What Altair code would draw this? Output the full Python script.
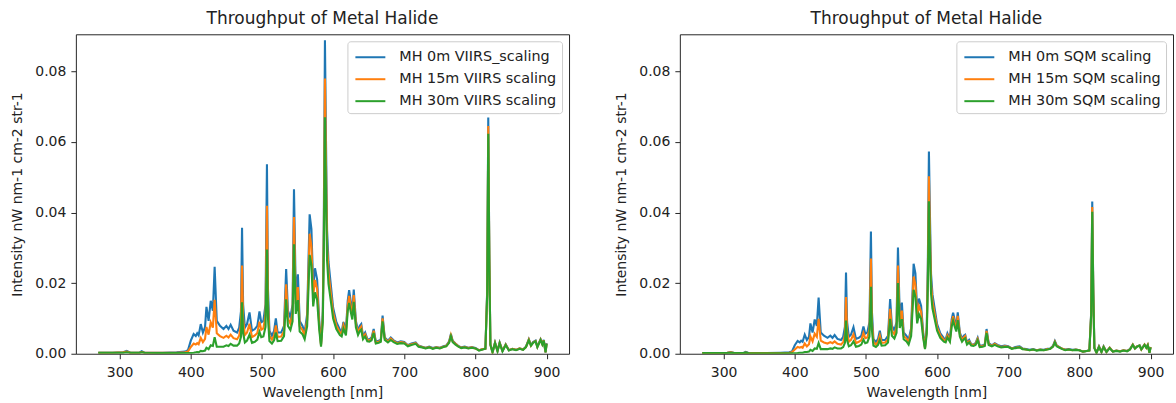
import altair as alt
import pandas as pd

# Wavelength samples (nm)
wavelength_nm = [
    270, 290, 305, 310, 315, 328, 331, 335, 360, 380, 392, 396, 400, 404, 407, 409, 411, 414, 417, 420,
    422, 425, 428, 431, 433.5, 436.5, 441, 446, 450, 453, 456, 460, 465, 468, 470.5, 472, 473.5, 476, 479, 482.5,
    486, 490, 493.5, 496.5, 499, 502, 505, 507, 508.5, 510.5, 514, 517, 519.5, 522, 527, 531, 534, 536.5, 540, 543,
    545, 547.5, 550.5, 553, 557, 560, 563.5, 567, 569.5, 572, 574.5, 577.5, 580.5, 583, 585.5, 587, 588.5, 590, 591.5, 593.5,
    596.5, 600, 604.5, 609.5, 612, 614.5, 618, 620.5, 622.5, 625, 627, 629, 632, 635, 637.5, 639.5, 642, 645, 648, 651,
    654, 657, 660, 664, 667, 669.5, 672.5, 677, 681, 685, 690, 695, 700, 705, 710, 716, 720, 725, 730, 735,
    740, 745, 750, 755, 759, 763, 765.5, 768, 772, 776, 780, 785, 790, 795, 800, 805, 810, 814, 816.5, 818,
    819.5, 821, 824, 827.5, 831, 834, 838, 842.5, 847, 852, 857, 862, 867, 871, 875, 878, 881, 884.5, 887, 891.5,
    894, 896, 898.5, 900,
]

# Intensities in units of 1e-3 nW nm-1 cm-2 str-1
viirs_0m = [
    0.3, 0.3, 0.4, 0.8, 0.3, 0.3, 0.7, 0.3, 0.3, 0.4, 0.6, 1.0, 3.7, 5.6, 5.0, 5.8, 5.2, 8.4, 6.0, 7.5,
    13.3, 9.3, 15.0, 12.2, 24.6, 9.3, 7.9, 7.0, 7.9, 7.0, 8.2, 6.5, 6.0, 7.4, 12.0, 35.7, 14.0, 7.4, 8.4, 11.7,
    6.5, 7.0, 7.9, 12.0, 8.9, 9.3, 14.0, 53.7, 18.0, 6.5, 5.1, 6.5, 10.0, 6.0, 6.0, 7.9, 24.0, 12.2, 10.3, 14.0,
    46.6, 16.9, 22.5, 9.3, 7.9, 6.0, 11.2, 39.5, 35.3, 18.8, 24.2, 21.1, 9.3, 2.7, 12.0, 40.0, 88.8, 60.0, 35.0, 26.0,
    20.0, 13.0, 9.0, 6.8, 6.2, 9.0, 6.5, 15.0, 18.0, 14.5, 12.0, 18.2, 9.3, 6.5, 7.9, 8.4, 5.0, 6.0, 4.2, 4.1,
    4.6, 7.0, 3.4, 3.7, 4.0, 10.8, 4.6, 3.7, 4.6, 3.8, 3.2, 3.5, 3.3, 2.4, 2.9, 3.2, 2.3, 2.0, 1.7, 2.0,
    1.6, 1.9, 1.7, 2.1, 2.3, 3.5, 5.6, 3.7, 2.9, 2.2, 1.8, 2.0, 1.7, 1.9, 1.6, 1.0, 1.3, 1.5, 18.0, 66.9,
    28.0, 2.7, 0.4, 3.2, 0.8, 3.2, 0.8, 2.7, 1.0, 1.4, 1.1, 1.5, 1.2, 2.0, 4.1, 2.4, 3.3, 3.7, 2.0, 4.1,
    2.8, 3.9, 0.4, 3.0,
]
viirs_15m = [
    0.3, 0.3, 0.4, 0.6, 0.3, 0.3, 0.5, 0.3, 0.3, 0.3, 0.4, 0.6, 1.9, 2.9, 2.6, 3.0, 2.7, 4.5, 3.3, 4.2,
    7.6, 5.4, 8.9, 7.4, 15.3, 5.8, 5.0, 4.5, 5.1, 4.6, 5.4, 4.4, 4.1, 5.1, 8.4, 25.0, 9.8, 5.3, 6.0, 8.5,
    4.7, 5.2, 5.9, 9.1, 6.8, 7.2, 10.9, 41.9, 14.0, 5.1, 4.0, 5.2, 8.0, 4.8, 4.9, 6.4, 19.7, 10.0, 8.5, 11.6,
    38.7, 14.1, 18.9, 7.8, 6.7, 5.1, 9.6, 34.0, 30.4, 16.3, 20.9, 18.4, 8.1, 2.4, 10.5, 35.2, 78.0, 52.8, 30.8, 23.0,
    17.7, 11.6, 8.0, 6.1, 5.6, 8.1, 5.9, 13.6, 16.4, 13.2, 10.9, 16.6, 8.5, 5.9, 7.2, 7.7, 4.6, 5.5, 3.9, 3.8,
    4.2, 6.5, 3.1, 3.4, 3.7, 10.0, 4.3, 3.4, 4.3, 3.6, 3.0, 3.3, 3.1, 2.3, 2.7, 3.0, 2.2, 1.9, 1.6, 1.9,
    1.5, 1.8, 1.6, 2.0, 2.2, 3.3, 5.3, 3.5, 2.8, 2.1, 1.7, 1.9, 1.6, 1.8, 1.5, 1.0, 1.3, 1.4, 17.4, 64.5,
    27.0, 2.6, 0.4, 3.1, 0.8, 3.1, 0.8, 2.6, 1.0, 1.4, 1.1, 1.5, 1.2, 1.9, 4.0, 2.3, 3.2, 3.6, 1.9, 4.0,
    2.7, 3.8, 0.4, 2.9,
]
viirs_30m = [
    0.3, 0.3, 0.3, 0.4, 0.3, 0.3, 0.4, 0.3, 0.2, 0.2, 0.2, 0.2, 0.2, 0.3, 0.4, 0.5, 0.4, 0.8, 0.7, 0.9,
    1.7, 1.3, 2.4, 2.2, 4.7, 2.0, 2.0, 2.0, 2.4, 2.2, 2.8, 2.3, 2.3, 2.9, 4.8, 14.6, 5.9, 3.2, 3.7, 5.4,
    3.1, 3.4, 4.0, 6.2, 4.7, 4.9, 7.6, 29.5, 10.0, 3.6, 2.9, 3.8, 6.0, 3.6, 3.7, 5.0, 15.4, 7.9, 6.7, 9.2,
    31.0, 11.3, 15.2, 6.3, 5.5, 4.1, 7.8, 28.0, 25.1, 13.4, 17.4, 15.3, 6.8, 2.0, 8.9, 29.8, 67.0, 45.0, 26.4, 19.8,
    15.3, 10.0, 7.0, 5.3, 4.9, 7.1, 5.2, 12.0, 14.4, 11.6, 9.7, 14.7, 7.5, 5.3, 6.4, 6.8, 4.1, 4.9, 3.5, 3.4,
    3.8, 5.9, 2.9, 3.1, 3.4, 9.2, 3.9, 3.2, 3.9, 3.3, 2.8, 3.0, 2.9, 2.1, 2.5, 2.8, 2.0, 1.8, 1.5, 1.8,
    1.4, 1.7, 1.5, 1.9, 2.1, 3.1, 5.0, 3.3, 2.6, 2.0, 1.6, 1.8, 1.5, 1.7, 1.5, 0.9, 1.2, 1.4, 16.7, 62.3,
    26.0, 2.5, 0.4, 3.0, 0.7, 3.0, 0.7, 2.5, 0.9, 1.3, 1.0, 1.4, 1.1, 1.9, 3.8, 2.3, 3.1, 3.5, 1.9, 3.9,
    2.6, 3.7, 0.4, 2.8,
]
sqm_0m = [
    0.2, 0.2, 0.3, 0.5, 0.2, 0.2, 0.5, 0.2, 0.2, 0.3, 0.4, 0.6, 2.4, 3.6, 3.2, 3.7, 3.4, 5.4, 3.9, 4.8,
    8.6, 6.0, 9.7, 7.9, 15.9, 6.0, 5.1, 4.5, 5.1, 4.5, 5.3, 4.2, 3.9, 4.8, 7.7, 23.0, 9.0, 4.8, 5.4, 7.5,
    4.2, 4.5, 5.1, 7.7, 5.7, 6.0, 9.0, 34.6, 11.6, 4.2, 3.3, 4.2, 6.5, 3.9, 3.9, 5.1, 15.5, 7.9, 6.6, 9.0,
    30.1, 10.9, 14.5, 6.0, 5.1, 3.9, 7.2, 25.5, 22.8, 12.1, 15.6, 13.6, 6.0, 1.7, 7.7, 25.8, 57.3, 38.7, 22.6, 16.8,
    12.9, 8.4, 5.8, 4.4, 4.0, 5.8, 4.2, 9.7, 11.6, 9.4, 7.7, 11.7, 6.0, 4.2, 5.1, 5.4, 3.2, 3.9, 2.7, 2.6,
    3.0, 4.5, 2.2, 2.4, 2.6, 7.0, 3.0, 2.4, 3.0, 2.5, 2.1, 2.3, 2.1, 1.5, 1.9, 2.1, 1.5, 1.3, 1.1, 1.3,
    1.0, 1.2, 1.1, 1.4, 1.5, 2.3, 3.6, 2.4, 1.9, 1.4, 1.2, 1.3, 1.1, 1.2, 1.0, 0.6, 0.8, 1.0, 11.6, 43.1,
    18.1, 1.7, 0.3, 2.1, 0.5, 2.1, 0.5, 1.7, 0.6, 0.9, 0.7, 1.0, 0.8, 1.3, 2.6, 1.5, 2.1, 2.4, 1.3, 2.6,
    1.8, 2.5, 0.3, 1.9,
]
sqm_15m = [
    0.2, 0.2, 0.3, 0.4, 0.2, 0.2, 0.3, 0.2, 0.2, 0.2, 0.3, 0.4, 1.2, 1.9, 1.7, 1.9, 1.7, 2.9, 2.1, 2.7,
    4.9, 3.5, 5.7, 4.8, 9.9, 3.7, 3.2, 2.9, 3.3, 3.0, 3.5, 2.8, 2.6, 3.3, 5.4, 16.1, 6.3, 3.4, 3.9, 5.5,
    3.0, 3.4, 3.8, 5.9, 4.4, 4.6, 7.0, 27.0, 9.0, 3.3, 2.6, 3.4, 5.2, 3.1, 3.2, 4.1, 12.7, 6.5, 5.5, 7.5,
    25.0, 9.1, 12.2, 5.0, 4.3, 3.3, 6.2, 21.9, 19.6, 10.5, 13.5, 11.9, 5.2, 1.5, 6.8, 22.7, 50.3, 34.1, 19.9, 14.8,
    11.4, 7.5, 5.2, 3.9, 3.6, 5.2, 3.8, 8.8, 10.6, 8.5, 7.0, 10.7, 5.5, 3.8, 4.6, 5.0, 3.0, 3.5, 2.5, 2.5,
    2.7, 4.2, 2.0, 2.2, 2.4, 6.5, 2.8, 2.2, 2.8, 2.3, 1.9, 2.1, 2.0, 1.5, 1.7, 1.9, 1.4, 1.2, 1.0, 1.2,
    1.0, 1.2, 1.0, 1.3, 1.4, 2.1, 3.4, 2.3, 1.8, 1.4, 1.1, 1.2, 1.0, 1.2, 1.0, 0.6, 0.8, 0.9, 11.2, 41.6,
    17.4, 1.7, 0.3, 2.0, 0.5, 2.0, 0.5, 1.7, 0.6, 0.9, 0.7, 1.0, 0.8, 1.2, 2.6, 1.5, 2.1, 2.3, 1.2, 2.6,
    1.7, 2.5, 0.3, 1.9,
]
sqm_30m = [
    0.2, 0.2, 0.2, 0.3, 0.2, 0.2, 0.3, 0.2, 0.1, 0.1, 0.1, 0.1, 0.1, 0.2, 0.3, 0.3, 0.3, 0.5, 0.5, 0.6,
    1.1, 0.8, 1.5, 1.4, 3.0, 1.3, 1.3, 1.3, 1.5, 1.4, 1.8, 1.5, 1.5, 1.9, 3.1, 9.4, 3.8, 2.1, 2.4, 3.5,
    2.0, 2.2, 2.6, 4.0, 3.0, 3.2, 4.9, 19.0, 6.5, 2.3, 1.9, 2.5, 3.9, 2.3, 2.4, 3.2, 9.9, 5.1, 4.3, 5.9,
    20.0, 7.3, 9.8, 4.1, 3.5, 2.6, 5.0, 18.1, 16.2, 8.6, 11.2, 9.9, 4.4, 1.3, 5.7, 19.2, 43.2, 29.0, 17.0, 12.8,
    9.9, 6.5, 4.5, 3.4, 3.2, 4.6, 3.4, 7.7, 9.3, 7.5, 6.3, 9.5, 4.8, 3.4, 4.1, 4.4, 2.6, 3.2, 2.3, 2.2,
    2.5, 3.8, 1.9, 2.0, 2.2, 5.9, 2.5, 2.1, 2.5, 2.1, 1.8, 1.9, 1.9, 1.4, 1.6, 1.8, 1.3, 1.2, 1.0, 1.2,
    0.9, 1.1, 1.0, 1.2, 1.4, 2.0, 3.2, 2.1, 1.7, 1.3, 1.0, 1.2, 1.0, 1.1, 1.0, 0.6, 0.8, 0.9, 10.8, 40.2,
    16.8, 1.6, 0.3, 1.9, 0.5, 1.9, 0.5, 1.6, 0.6, 0.8, 0.6, 0.9, 0.7, 1.2, 2.5, 1.5, 2.0, 2.3, 1.2, 2.5,
    1.7, 2.4, 0.3, 1.8,
]

viirs_labels = ["MH 0m VIIRS_scaling", "MH 15m VIIRS scaling", "MH 30m VIIRS scaling"]
sqm_labels = ["MH 0m SQM scaling", "MH 15m SQM scaling", "MH 30m SQM scaling"]
line_colors = ["#1f77b4", "#ff7f0e", "#2ca02c"]
x_ticks = [300, 400, 500, 600, 700, 800, 900]
y_ticks = [0.0, 0.02, 0.04, 0.06, 0.08]

FONT = "DejaVu Sans"
INK = "#222222"
PLOT_W, PLOT_H = 494, 320


def long_frame(series_list, labels):
    rows = []
    for label, values in zip(labels, series_list):
        for wl, v in zip(wavelength_nm, values):
            rows.append({"wavelength": wl, "intensity": v / 1000.0, "series": label})
    return pd.DataFrame(rows)


def panel(df, labels):
    x = alt.X(
        "wavelength:Q",
        scale=alt.Scale(domain=[238.5, 931.5], nice=False, zero=False),
        axis=alt.Axis(values=x_ticks, title="Wavelength [nm]", labelPadding=7, titlePadding=6),
    )
    y = alt.Y(
        "intensity:Q",
        scale=alt.Scale(domain=[0, 0.0905], nice=False, zero=False),
        axis=alt.Axis(values=y_ticks, format=".2f", title="Intensity nW nm-1 cm-2 str-1",
                      labelPadding=5, titlePadding=10),
    )
    color = alt.Color(
        "series:N",
        scale=alt.Scale(domain=labels, range=line_colors),
        legend=alt.Legend(
            title=None, orient="top-right", offset=7, padding=5,
            fillColor="rgba(255,255,255,0.8)", strokeColor="#cccccc", cornerRadius=3,
            symbolType="M -1.5 0 L 1.5 0", symbolSize=400, symbolStrokeWidth=2,
            symbolOffset=7, labelOffset=18, rowPadding=4,
            labelFont=FONT, labelFontSize=14.4, labelColor=INK, labelLimit=400,
        ),
    )
    layers = [
        alt.Chart(df)
        .transform_filter(alt.datum.series == lab)
        .mark_line(strokeWidth=2.1, clip=True)
        .encode(x=x, y=y, color=color)
        for lab in labels
    ]
    return alt.layer(*layers).properties(
        width=PLOT_W,
        height=PLOT_H,
        title=alt.Title("Throughput of Metal Halide", fontSize=17, font=FONT,
                        fontWeight="normal", color=INK, offset=6),
    )


left = panel(long_frame([viirs_0m, viirs_15m, viirs_30m], viirs_labels), viirs_labels)
right = panel(long_frame([sqm_0m, sqm_15m, sqm_30m], sqm_labels), sqm_labels)

chart = (
    alt.hconcat(left, right, spacing=111, bounds="flush")
    .resolve_scale(color="independent")
    .properties(padding={"left": 10, "top": 9, "right": 2, "bottom": 0})
    .configure(font=FONT, background="white")
    .configure_view(stroke="#262626", strokeWidth=1)
    .configure_axis(
        grid=False, domain=False, tickSize=5, tickColor="#262626", tickWidth=1,
        labelFont=FONT, labelFontSize=14, labelColor=INK,
        titleFont=FONT, titleFontSize=14, titleFontWeight="normal", titleColor=INK,
    )
)

chart.save("out.html", embed_options={"renderer": "svg", "actions": False})
